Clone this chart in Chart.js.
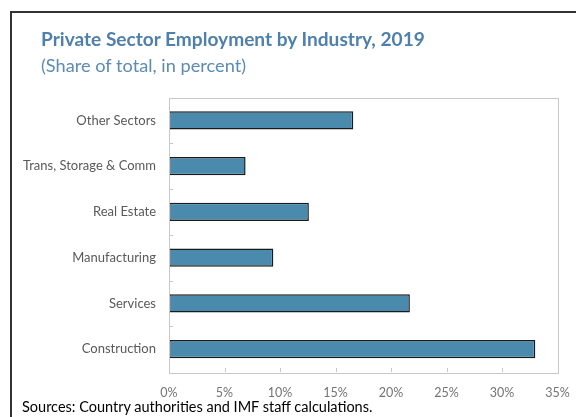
<!DOCTYPE html>
<html>
<head>
<meta charset="utf-8">
<script src="https://cdn.jsdelivr.net/npm/chart.js@4.4.0/dist/chart.umd.min.js"></script>
<style>
  body { margin: 0; background: #fff; }
  #frame {
    position: absolute; left: 10px; top: 11px; width: 580px; height: 420px;
    border-left: 2px solid #333; border-top: 2px solid #333;
  }
  #wrap { position: absolute; left: 0; top: 0; width: 576px; height: 417px; }
  .txt { position: absolute; white-space: nowrap; font-family: Lato, sans-serif; line-height: normal; }
  #title { left: 41px; top: 27px; font-size: 19.1px; font-weight: 700; color: #4f80ad; }
  #subtitle { left: 41px; top: 54px; font-size: 18.2px; font-weight: 400; color: #5b8bb6; }
  #sources { left: 22px; top: 398px; font-size: 14.5px; color: #000; }
</style>
</head>
<body>
<div id="frame"></div>
<div id="wrap"><canvas id="chart" width="576" height="417"></canvas></div>
<div class="txt" id="title">Private Sector Employment by Industry, 2019</div>
<div class="txt" id="subtitle">(Share of total, in percent)</div>
<div class="txt" id="sources">Sources: Country authorities and IMF staff calculations.</div>
<script>
// chart data
const sectors = ["Other Sectors", "Trans, Storage & Comm", "Real Estate", "Manufacturing", "Services", "Construction"];
const shares = [16.6, 6.9, 12.6, 9.4, 21.7, 33.0];
const xTicks = [0, 5, 10, 15, 20, 25, 30, 35];

const lightGray = "#c8c8c8";

// plot frame and small inward ticks, placed from the scales
const frameTicks = {
    id: "frameTicks",
    afterDatasetsDraw(chart) {
        const ctx = chart.ctx;
        const area = chart.chartArea;
        const x = chart.scales.x;
        const y = chart.scales.y;
        ctx.save();
        ctx.strokeStyle = lightGray;
        ctx.lineWidth = 1;
        ctx.strokeRect(Math.round(area.left) + 0.5, Math.round(area.top) + 0.5,
            Math.round(area.right - area.left), Math.round(area.bottom - area.top));
        // x ticks
        xTicks.forEach(v => {
            const px = Math.round(x.getPixelForValue(v)) + 0.5;
            ctx.beginPath();
            ctx.moveTo(px, area.bottom);
            ctx.lineTo(px, area.bottom - 4);
            ctx.stroke();
        });
        // y ticks between categories
        for (let i = 0; i < sectors.length - 1; i++) {
            const py = Math.round((y.getPixelForValue(i) + y.getPixelForValue(i + 1)) / 2) + 0.5;
            ctx.beginPath();
            ctx.moveTo(area.left, py);
            ctx.lineTo(area.left + 4, py);
            ctx.stroke();
        }
        ctx.restore();
    }
};

new Chart(document.getElementById("chart"), {
    type: "bar",
    data: {
        labels: sectors,
        datasets: [{
            data: shares,
            backgroundColor: "#4a8aad",
            borderColor: "#1a1a1a",
            borderWidth: 1.5,
            borderSkipped: false,
            categoryPercentage: 1,
            barPercentage: 0.4,
        }]
    },
    options: {
        indexAxis: "y",
        responsive: false,
        animation: false,
        layout: { padding: { left: 18, right: 18.5, top: 97.5, bottom: 15 } },
        plugins: {
            legend: { display: false },
            tooltip: { enabled: false },
        },
        scales: {
            x: {
                min: 0,
                max: 35,
                afterFit: (s) => { s.height = 30; s.paddingLeft = 0; s.paddingRight = 0; },
                grid: { display: false, drawTicks: false },
                border: { display: false },
                ticks: {
                    stepSize: 5,
                    padding: 13,
                    color: "#737373",
                    font: { family: "Lato, sans-serif", size: 12.5 },
                    callback: (v) => v + "%",
                },
            },
            y: {
                afterFit: (s) => { s.width = 151; },
                grid: { display: false, drawTicks: false },
                border: { display: false },
                ticks: {
                    padding: 13,
                    color: "#595959",
                    font: { family: "Lato, sans-serif", size: 13 },
                },
            },
        },
    },
    plugins: [frameTicks],
});
</script>
</body>
</html>
